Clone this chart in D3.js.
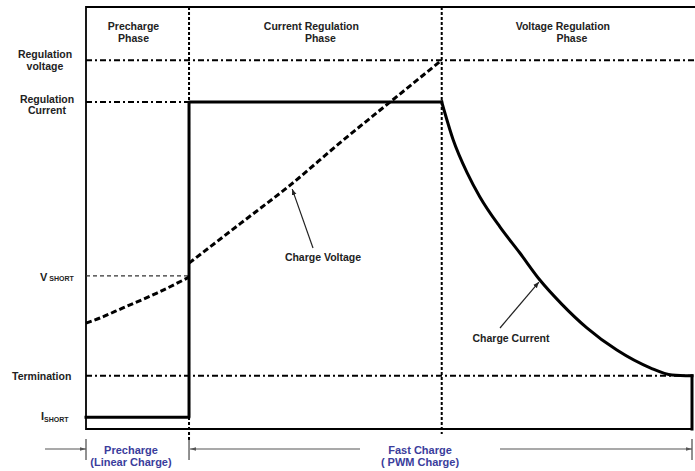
<!DOCTYPE html>
<html>
<head>
<meta charset="utf-8">
<script src="https://cdn.jsdelivr.net/npm/d3@7"></script>
<style>
    body { margin: 0; background: white; }
    text { font-family: "Liberation Sans", Arial, sans-serif; font-weight: bold; }
</style>
</head>
<body>
<div id="chart"></div>
<script>

// time axis 0..100, level axis 0..100 (arbitrary units)
const phaseBounds = [17.0, 58.7, 100];
const phaseNames = [["Precharge", "Phase"], ["Current Regulation", "Phase"], ["Voltage Regulation", "Phase"]];

const levelNames = ["Regulation voltage", "Regulation Current", "VSHORT", "Termination", "ISHORT"];
const levelValues = [87.4, 77.5, 36.3, 12.6, 2.8];

// charge voltage (dashed)
const voltPreT = [0, 2.3, 6.1, 11.7, 17.0];
const voltPreV = [25.1, 26.3, 28.7, 32.2, 36.0];
const voltFastT = [17.0, 25.4, 33.7, 41.9, 50.2, 58.7];
const voltFastV = [39.3, 48.6, 57.8, 67.8, 77.5, 87.4];

// charge current (solid): step part, decay, end
const currStepT = [0, 17.0, 17.0, 58.7];
const currStepV = [2.8, 2.8, 77.5, 77.5];
const decayT = [58.7, 60.6, 62.9, 65.0, 68.3, 71.6, 74.9, 78.5, 82.7, 87.6, 93.1, 96.7, 100];
const decayV = [77.5, 68.5, 60.7, 55.0, 47.9, 41.7, 35.3, 29.6, 23.9, 18.7, 14.5, 12.8, 12.6];
const endT = [100, 100];
const endV = [12.6, 0];

const widthSvg = 695, heightSvg = 471;
const plotLeft = 86, plotRight = 692, plotTop = 7, plotBottom = 429;

const x = d3.scaleLinear().domain([0, 100]).range([plotLeft, plotRight]);
const y = d3.scaleLinear().domain([0, 100]).range([plotBottom, plotTop]);

const svg = d3.select("#chart").append("svg")
    .attr("width", widthSvg).attr("height", heightSvg);

const defs = svg.append("defs");
defs.append("marker")
    .attr("id", "head")
    .attr("viewBox", "0 0 10 10")
    .attr("refX", 10).attr("refY", 5)
    .attr("markerWidth", 5).attr("markerHeight", 5)
    .attr("orient", "auto")
    .append("path").attr("d", "M0,1 L10,5 L0,9 Z").attr("fill", "#222");
defs.append("marker")
    .attr("id", "headGray")
    .attr("viewBox", "0 0 10 10")
    .attr("refX", 10).attr("refY", 5)
    .attr("markerWidth", 5).attr("markerHeight", 5)
    .attr("orient", "auto")
    .append("path").attr("d", "M0,2 L10,5 L0,8 Z").attr("fill", "#555");

// frame: top, left, bottom
svg.append("path")
    .attr("d", `M${x(100) + 3},${y(100)} L${x(0)},${y(100)} L${x(0)},${y(0)} L${x(100)},${y(0)}`)
    .attr("fill", "none").attr("stroke", "#000").attr("stroke-width", 1.8);

// horizontal reference lines
const refEnd = [103, 17.0, 17.0, 100, 0];
levelValues.forEach((v, i) => {
    if (i === 4) return;
    svg.append("line")
        .attr("x1", x(0)).attr("x2", x(refEnd[i]))
        .attr("y1", y(v)).attr("y2", y(v))
        .attr("stroke", i === 2 ? "#333" : "#000")
        .attr("stroke-width", i === 2 ? 1.2 : 2)
        .attr("stroke-dasharray", i === 2 ? "4,3" : "6,3,2,3");
});

// vertical phase dividers
phaseBounds.slice(0, 2).forEach((t, i) => {
    svg.append("line")
        .attr("x1", x(t)).attr("x2", x(t))
        .attr("y1", y(100)).attr("y2", i === 0 ? 440 : 434)
        .attr("stroke", "#000").attr("stroke-width", 2)
        .attr("stroke-dasharray", "3,2");
});

// charge current
const line = d3.line().x(d => x(d[0])).y(d => y(d[1]));
const curve = d3.line().x(d => x(d[0])).y(d => y(d[1])).curve(d3.curveMonotoneX);
const currentParts = [[currStepT, currStepV, line], [decayT, decayV, curve], [endT, endV, line]];
currentParts.forEach(p => {
    svg.append("path")
        .datum(p[0].map((t, i) => [t, p[1][i]]))
        .attr("d", p[2])
        .attr("fill", "none").attr("stroke", "#000").attr("stroke-width", 3)
        .attr("stroke-linejoin", "round").attr("stroke-linecap", "square");
});

// charge voltage
[[voltPreT, voltPreV], [voltFastT, voltFastV]].forEach(s => {
    svg.append("path")
        .datum(s[0].map((t, i) => [t, s[1][i]]))
        .attr("d", curve)
        .attr("fill", "none").attr("stroke", "#000").attr("stroke-width", 3)
        .attr("stroke-dasharray", "6,3");
});

// phase titles
const phaseStart = [0].concat(phaseBounds.slice(0, 2));
const titleOffset = [[0, 0], [0, 9], [0, 9]];
phaseNames.forEach((n, i) => {
    const cx = (x(phaseStart[i]) + x(phaseBounds[i])) / 2 - 4;
    n.forEach((s, j) => {
        svg.append("text")
            .attr("x", cx + titleOffset[i][j]).attr("y", 29.5 + j * 12.5)
            .attr("text-anchor", "middle")
            .attr("font-size", "10.5px").attr("fill", "#222")
            .text(s);
    });
});

// level labels on the left
const lab = svg.append("g").attr("fill", "#222").attr("font-size", "10.5px");
lab.append("text").attr("x", 45).attr("y", y(levelValues[0]) - 2).attr("text-anchor", "middle").text("Regulation");
lab.append("text").attr("x", 45).attr("y", y(levelValues[0]) + 10).attr("text-anchor", "middle").text("voltage");
lab.append("text").attr("x", 47).attr("y", y(levelValues[1]) + 1).attr("text-anchor", "middle").text("Regulation");
lab.append("text").attr("x", 47).attr("y", y(levelValues[1]) + 12).attr("text-anchor", "middle").text("Current");

const vs = lab.append("text").attr("x", 40).attr("y", y(levelValues[2]) + 5);
vs.append("tspan").attr("font-size", "11px").text("V");
vs.append("tspan").attr("font-size", "7px").attr("dx", 2).text("SHORT");

lab.append("text").attr("x", 12).attr("y", y(levelValues[3]) + 4).text("Termination");

const is = lab.append("text").attr("x", 41).attr("y", y(levelValues[4]) + 3);
is.append("tspan").attr("font-size", "11px").text("I");
is.append("tspan").attr("font-size", "7px").attr("dy", 2).text("SHORT");

// annotations
svg.append("line")
    .attr("x1", 313).attr("y1", 248).attr("x2", x(33.7) + 2).attr("y2", y(57.8) + 4)
    .attr("stroke", "#222").attr("stroke-width", 1.2).attr("marker-end", "url(#head)");
svg.append("text").attr("x", 323).attr("y", 261).attr("text-anchor", "middle")
    .attr("font-size", "10.5px").attr("fill", "#222").text("Charge Voltage");

svg.append("line")
    .attr("x1", 500).attr("y1", 328).attr("x2", x(74.9) - 1).attr("y2", y(35.3) + 2)
    .attr("stroke", "#222").attr("stroke-width", 1.2).attr("marker-end", "url(#head)");
svg.append("text").attr("x", 511).attr("y", 342).attr("text-anchor", "middle")
    .attr("font-size", "10.5px").attr("fill", "#222").text("Charge Current");

// bottom span arrows
const arrowY = 449;
const ticks = [0, 17.0, 100];
ticks.forEach(t => {
    svg.append("line")
        .attr("x1", x(t)).attr("x2", x(t))
        .attr("y1", 439).attr("y2", 460)
        .attr("stroke", "#222").attr("stroke-width", 1);
});
const arrows = [[45, x(0)], [360, x(17.0) + 1], [500, x(100)]];
arrows.forEach(a => {
    svg.append("line")
        .attr("x1", a[0]).attr("x2", a[1])
        .attr("y1", arrowY).attr("y2", arrowY)
        .attr("stroke", "#555").attr("stroke-width", 1.2)
        .attr("marker-end", "url(#headGray)");
});

const blue = "#3a3d9c";
const bottomLabels = [["Precharge", "(Linear Charge)", 131], ["Fast Charge", "( PWM Charge)", 420]];
bottomLabels.forEach(b => {
    svg.append("text").attr("x", b[2]).attr("y", 454).attr("text-anchor", "middle")
        .attr("font-size", "11px").attr("fill", blue).text(b[0]);
    svg.append("text").attr("x", b[2]).attr("y", 466).attr("text-anchor", "middle")
        .attr("font-size", "11px").attr("fill", blue).text(b[1]);
});

</script>
</body>
</html>
